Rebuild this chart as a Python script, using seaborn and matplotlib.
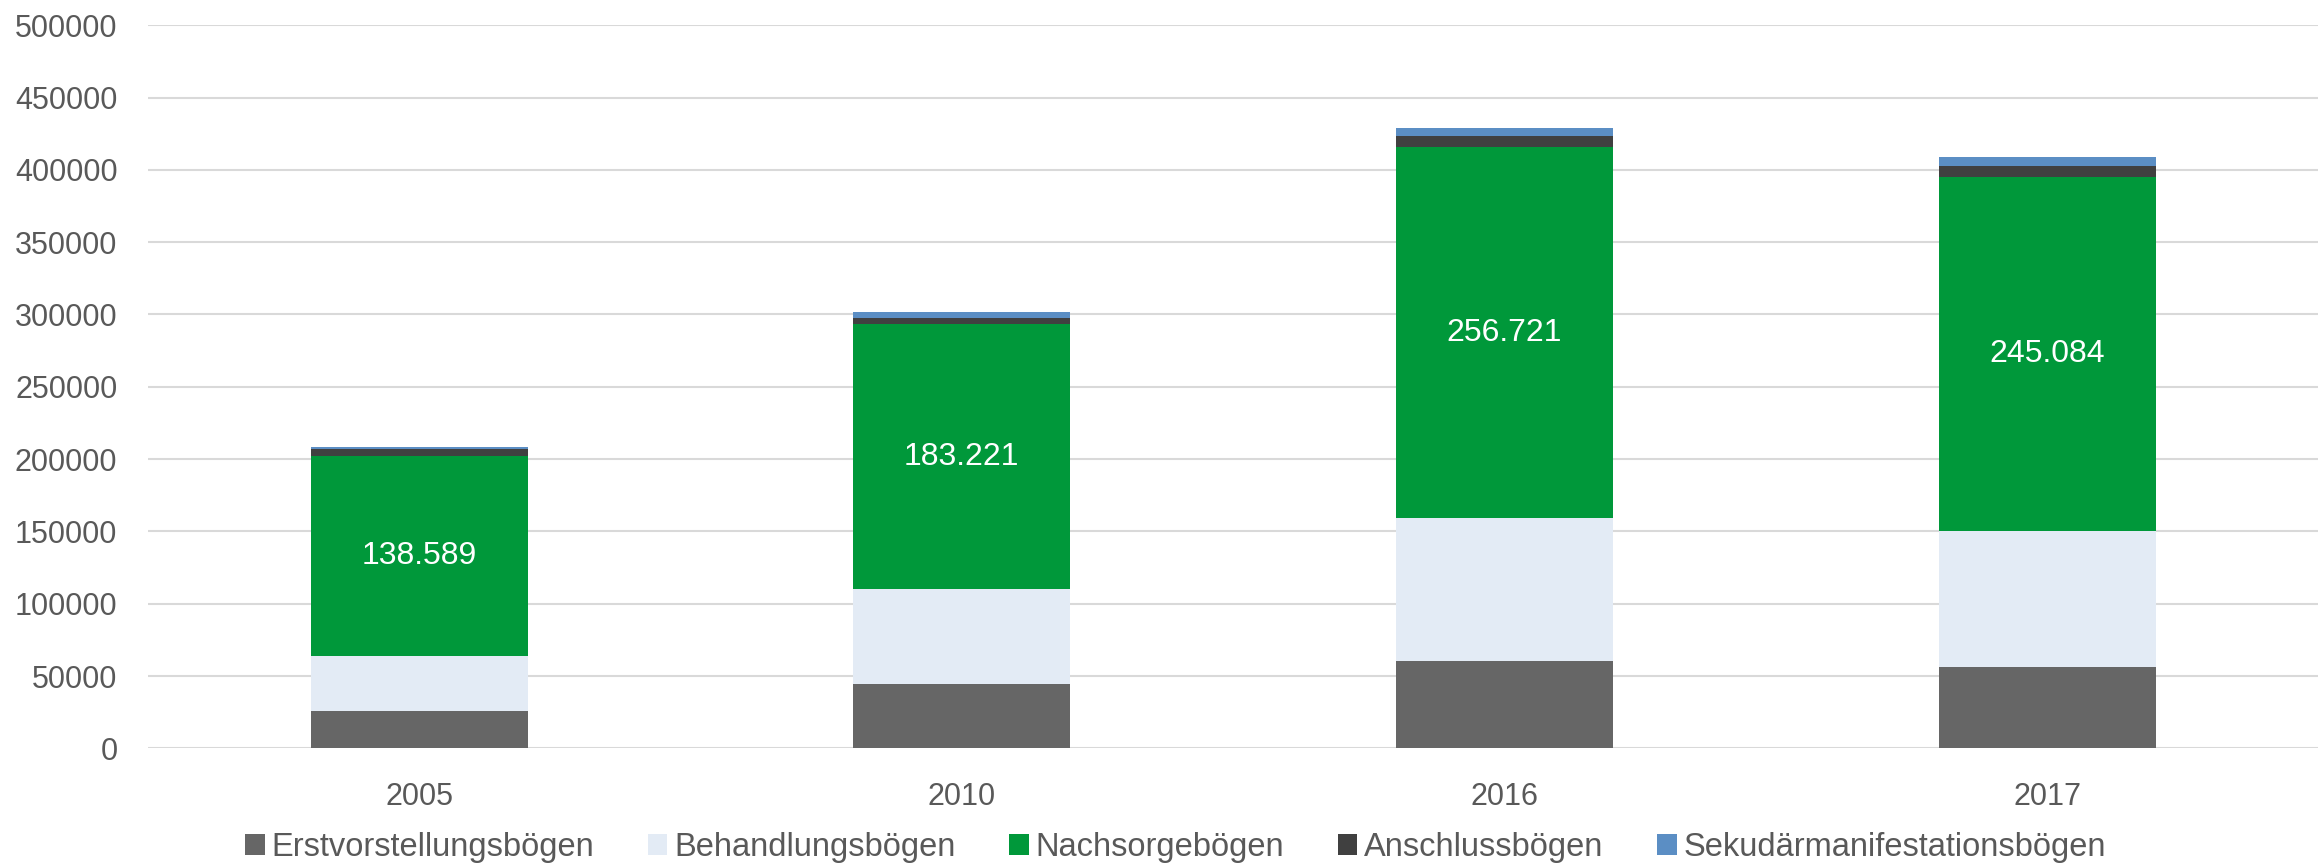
import pandas as pd
import seaborn as sns
import matplotlib.pyplot as plt
from matplotlib.patches import Patch

# data
jahre = ['2005', '2010', '2016', '2017']
erstvorstellung = [26000, 44500, 60300, 56200]
behandlung = [37500, 65500, 98700, 94000]
nachsorge = [138589, 183221, 256721, 245084]
anschluss = [4700, 4600, 7600, 7700]
sekundaer = [1600, 3700, 5500, 5800]

serien = ['Erstvorstellungsbögen', 'Behandlungsbögen', 'Nachsorgebögen',
          'Anschlussbögen', 'Sekudärmanifestationsbögen']
farben = ['#666666', '#E3EBF5', '#00983A', '#404040', '#5B8EC4']

df = pd.DataFrame({'Jahr': jahre,
                   serien[0]: erstvorstellung,
                   serien[1]: behandlung,
                   serien[2]: nachsorge,
                   serien[3]: anschluss,
                   serien[4]: sekundaer})
cum = df[serien].cumsum(axis=1)
cum['Jahr'] = df['Jahr']

sns.set_style('white')
plt.rcParams['font.family'] = ['Liberation Sans', 'DejaVu Sans']

fig = plt.figure(figsize=(23.23, 8.63), dpi=100)
ax = fig.add_axes([0.0637, 0.1329, 0.9343, 0.8378])

# stacked bars: draw cumulative totals from top segment down
for s, c in reversed(list(zip(serien, farben))):
    sns.barplot(data=cum, x='Jahr', y=s, color=c, width=0.4, order=jahre,
                linewidth=0, saturation=1, ax=ax, zorder=3)

# labels in the green segment
for i, j in enumerate(jahre):
    mitte = erstvorstellung[i] + behandlung[i] + nachsorge[i] / 2
    txt = f'{nachsorge[i]:,}'.replace(',', '.')
    ax.text(i, mitte, txt, ha='center', va='center', color='white',
            fontsize=23, zorder=5)

ax.set_ylim(0, 500000)
ax.set_yticks(range(0, 500001, 50000))
ax.yaxis.grid(True, color='#D9D9D9', linewidth=1.5, zorder=0)
ax.set_axisbelow(True)
for sp in ax.spines.values():
    sp.set_visible(False)
ax.tick_params(axis='both', length=0, labelsize=22, labelcolor='#595959')
ax.tick_params(axis='x', pad=24)
ax.tick_params(axis='y', pad=22)
ax.set_xlabel('')
ax.set_ylabel('')

handles = [Patch(facecolor=c, edgecolor='none') for c in farben]
fig.legend(handles, serien, loc='center', bbox_to_anchor=(0.506, 0.018),
           ncol=5, frameon=False, fontsize=23.5, labelcolor='#595959',
           handlelength=0.6, handleheight=0.6, handletextpad=0.2,
           columnspacing=1.65)

fig.savefig('out.png', dpi=100)
